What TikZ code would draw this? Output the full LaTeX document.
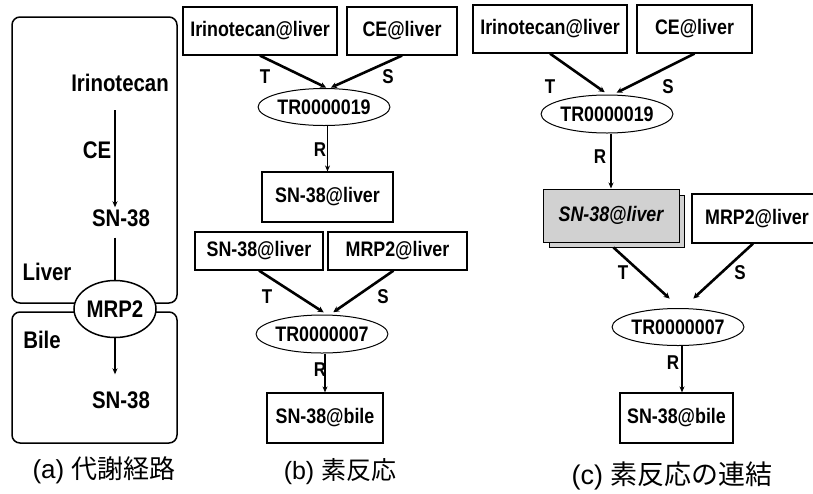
\documentclass[tikz,border=0pt]{standalone}
\usepackage{fontspec}
\setmainfont{Liberation Sans}
\newfontfamily\narrowfont[FakeStretch=0.85]{Liberation Sans}
\newfontfamily\cjk{Noto Sans CJK JP}
\usetikzlibrary{shapes.geometric,arrows.meta}
\tikzset{
  x=1pt,y=-1pt,
  bigtxt/.style={font=\narrowfont\bfseries\fontsize{24}{24}\selectfont, inner sep=2pt},
  midtxt/.style={font=\narrowfont\bfseries\fontsize{20}{20}\selectfont, inner sep=2pt},
  boxnode/.style={draw, line width=1.2pt, rectangle, fill=white, inner sep=2pt, font=\narrowfont\bfseries\fontsize{21}{21}\selectfont},
  ellnode/.style={draw, line width=1pt, ellipse, inner sep=0pt, font=\narrowfont\bfseries\fontsize{21}{21}\selectfont},
  thinarr/.style={line width=1.2pt, -{Stealth[length=6pt,width=5pt]}},
  thickarr/.style={line width=2.6pt, -{Stealth[length=6pt,width=6pt,line width=0pt]}},
  captxt/.style={font=\fontsize{25}{25}\selectfont, inner sep=0pt},
}
\begin{document}
\begin{tikzpicture}
\clip (0,0) rectangle (813,493);
\fill[white] (0,0) rectangle (813,493);

% ---------- (a) ----------
\draw[rounded corners=8pt, line width=1.5pt] (12,17) rectangle (177,303);
\draw[rounded corners=8pt, line width=1.5pt] (12,312) rectangle (177,443);
\node[bigtxt] (irA) at (120,83) {Irinotecan};
\node[bigtxt] (ceA) at (97,150) {CE};
\node[bigtxt] (snA1) at (121,218) {SN-38};
\node[bigtxt] (liverA) at (47,272) {Liver};
\node[ellnode, line width=1.5pt, fill=white, minimum width=82, minimum height=57, font=\narrowfont\bfseries\fontsize{24}{24}\selectfont] (mrpA) at (115,309) {MRP2};
\node[bigtxt] (bileA) at (42,340) {Bile};
\node[bigtxt] (snA2) at (121,400) {SN-38};
\draw[thinarr, shorten <=16pt] (irA.south -| mrpA.center) -- (snA1.north -| mrpA.center);
\draw[line width=1.2pt, shorten <=9pt] (snA1.south -| mrpA.center) -- (mrpA.north);
\draw[thinarr, shorten >=15pt] (mrpA.south) -- (snA2.north -| mrpA.center);
\node[captxt, font=\fontsize{26}{26}\selectfont] (capA) at (104,470) {(a) {\cjk 代謝経路}};

% ---------- (b) ----------
\node[boxnode, minimum width=154, minimum height=48] (irB) at (260,31) {Irinotecan@liver};
\node[boxnode, minimum width=110, minimum height=48] (ceB) at (402,31) {CE@liver};
\node[ellnode, minimum width=112, minimum height=37] (tr19B) at (324,107) {TR0000019};
\draw[thickarr, shorten >=1pt] (irB.south) -- ([xshift=3]tr19B.north);
\draw[thickarr, shorten >=1pt] (ceB.south) -- ([xshift=6]tr19B.north);
\node[midtxt] (tB1) at (265,77) {T};
\node[midtxt] (sB1) at (388,77) {S};
\node[boxnode, minimum width=131, minimum height=50] (snB) at (327.5,197) {SN-38@liver};
\draw[thinarr] (tr19B.south -| snB.north) -- (snB.north);
\node[midtxt] (rB1) at (320,150) {R};

\node[boxnode, minimum width=128, minimum height=38] (snB2) at (259,251) {SN-38@liver};
\node[boxnode, minimum width=139, minimum height=38] (mrpB) at (397.5,251) {MRP2@liver};
\node[ellnode, minimum width=110, minimum height=38] (tr07B) at (322,334) {TR0000007};
\draw[thickarr, shorten >=4pt] (snB2.south) -- ([xshift=5]tr07B.north);
\draw[thickarr, shorten >=4pt] ([xshift=-4]mrpB.south) -- ([xshift=8]tr07B.north);
\node[midtxt] (tB2) at (267,297) {T};
\node[midtxt] (sB2) at (383,297) {S};
\node[boxnode, minimum width=116, minimum height=50] (bileB) at (325,418) {SN-38@bile};
\draw[thinarr] (tr07B.south -| bileB.north) -- (bileB.north);
\node[midtxt] (rB2) at (320,370) {R};
\node[captxt] (capB) at (340,472) {(b) {\cjk 素反応}};

% ---------- (c) ----------
\node[boxnode, minimum width=154, minimum height=48] (irC) at (550,29) {Irinotecan@liver};
\node[boxnode, minimum width=115, minimum height=48] (ceC) at (694.5,29) {CE@liver};
\node[ellnode, minimum width=115, minimum height=38] (tr19C) at (607,114) {TR0000019};
\draw[thickarr, shorten >=4pt] (irC.south) -- ([xshift=1]tr19C.north);
\draw[thickarr, shorten >=4pt] (ceC.south) -- ([xshift=6]tr19C.north);
\node[midtxt] (tC1) at (550,87) {T};
\node[midtxt] (sC1) at (668,87) {S};

\node[boxnode, fill=black!18, line width=1pt, minimum width=135, minimum height=52] (snCb) at (616.5,221) {};
\node[boxnode, fill=black!18, line width=1pt, minimum width=136, minimum height=53, font=\narrowfont\bfseries\itshape\fontsize{21}{21}\selectfont] (snC) at (611,215.5) {SN-38@liver};
\draw[thinarr] (tr19C.south -| snC.north) -- (snC.north);
\node[midtxt] (rC1) at (600,157) {R};
\node[boxnode, minimum width=130, minimum height=49] (mrpC) at (757,218.5) {MRP2@liver};

\node[ellnode, minimum width=120, minimum height=37] (tr07C) at (678,327) {TR0000007};
\draw[thickarr, shorten >=14pt] ([xshift=-3]snCb.south) -- ([xshift=2]tr07C.north);
\draw[thickarr, shorten >=14pt] ([xshift=-4]mrpC.south) -- ([xshift=5]tr07C.north);
\node[midtxt] (tC2) at (623,273) {T};
\node[midtxt] (sC2) at (740,273) {S};
\node[boxnode, minimum width=113, minimum height=50] (bileC) at (676.5,418) {SN-38@bile};
\draw[thinarr] (tr07C.south -| 682,0) -- (bileC.north -| 682,0);
\node[midtxt] (rC2) at (673,363) {R};
\node[captxt, font=\fontsize{27}{27}\selectfont] (capC) at (672,476) {(c) {\cjk 素反応の連結}};
\end{tikzpicture}
\end{document}
